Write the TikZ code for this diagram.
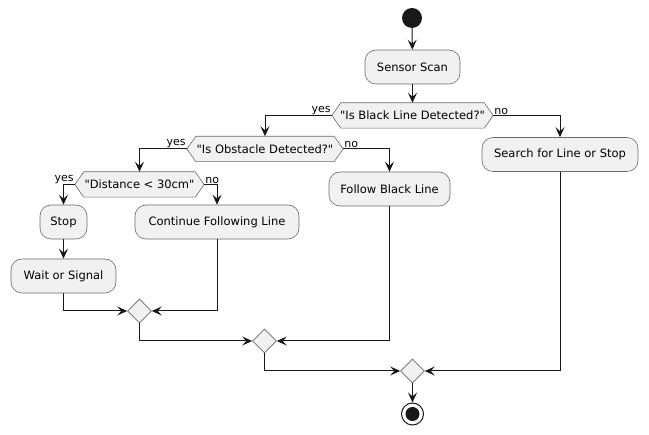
\documentclass[tikz,border=0pt]{standalone}
\usepackage{fontspec}
\setmainfont{DejaVu Sans}[Ligatures=TeXOff]
\usetikzlibrary{arrows.meta,backgrounds,calc,shapes.geometric}
\definecolor{boxfill}{HTML}{F1F1F1}
\definecolor{boxline}{HTML}{6A6A6A}
\definecolor{ink}{HTML}{181818}
\tikzset{
  x=1pt,y=-1pt,
  act/.style={draw=boxline,fill=boxfill,rounded corners=11pt,line width=0.6pt,
    minimum height=34pt,inner sep=0pt,font=\fontsize{11.5}{13}\selectfont},
  hexbox/.style={inner sep=0pt,minimum height=25pt,font=\fontsize{11.5}{13}\selectfont},
  hexline/.style={draw=boxline,fill=boxfill,line width=0.6pt},
  merge/.style={draw=boxline,fill=boxfill,line width=0.6pt,shape=diamond,
    minimum width=24pt,minimum height=24pt,inner sep=0pt},
  flow/.style={draw=ink,line width=1pt,-{Stealth[length=10pt,width=9pt,inset=4pt]}},
  lbl/.style={font=\fontsize{11}{12}\selectfont,inner sep=1pt},
}
\newcommand{\hexshape}[1]{%
  \begin{scope}[on background layer]
  \path[hexline] (#1.west) -- ([xshift=9pt]#1.north west) -- ([xshift=-9pt]#1.north east)
    -- (#1.east) -- ([xshift=-9pt]#1.south east) -- ([xshift=9pt]#1.south west) -- cycle;
  \end{scope}}
\begin{document}
\begin{tikzpicture}
\useasboundingbox (0,0) rectangle (649,435);
% start
\node[circle,fill=ink,minimum size=20pt,inner sep=0pt] (start) at (412,18) {};
\node[act,minimum width=95pt] (scan) at (412.5,67) {Sensor Scan};
\node[hexbox,minimum width=161pt] (d1) at (412.5,115.5) {"Is Black Line Detected?"};
\hexshape{d1}
\node[act,minimum width=156pt] (search) at (560,154.5) {Search for Line or Stop};
\node[hexbox,minimum width=156pt] (d2) at (265,149) {"Is Obstacle Detected?"};
\hexshape{d2}
\node[act,minimum width=121pt] (follow) at (389.5,189) {Follow Black Line};
\node[hexbox,minimum width=129pt] (d3) at (139.5,184.5) {"Distance < 30cm"};
\hexshape{d3}
\node[act,minimum width=47pt] (stop) at (63.5,222) {Stop};
\node[act,minimum width=164pt] (cont) at (217,222) {Continue Following Line};
\node[act,minimum width=105pt] (wait) at (63.5,276) {Wait or Signal};
\node[merge] (m1) at (139.5,311) {};
\node[merge] (m2) at (264.5,341) {};
\node[merge] (m3) at (412.5,371) {};
% end
\node[circle,draw=ink,line width=1pt,fill=white,minimum size=22pt,inner sep=0pt] (end) at (412.5,414) {};
\node[circle,fill=ink,minimum size=14pt,inner sep=0pt] (endcore) at (end) {};
% connectors
\draw[flow] (start) -- (scan);
\draw[flow] (scan) -- (d1);
\draw[flow] (d1.west) -| (d2.north);
\draw[flow] (d1.east) -| (search.north);
\node[lbl,anchor=south east] (y1) at (d1.west) {yes};
\node[lbl,anchor=south west] (n1) at (d1.east) {no};
\draw[flow] (d2.west) -| (d3.north);
\draw[flow] (d2.east) -| (follow.north);
\node[lbl,anchor=south east] (y2) at (d2.west) {yes};
\node[lbl,anchor=south west] (n2) at (d2.east) {no};
\draw[flow] (d3.west) -| (stop.north);
\draw[flow] (d3.east) -| (cont.north);
\node[lbl,anchor=south east] (y3) at (d3.west) {yes};
\node[lbl,anchor=south west] (n3) at (d3.east) {no};
\draw[flow] (stop) -- (wait);
\draw[flow] (wait.south) |- (m1.west);
\draw[flow] (cont.south) |- (m1.east);
\draw[flow] (m1.south) |- (m2.west);
\draw[flow] (follow.south) |- (m2.east);
\draw[flow] (m2.south) |- (m3.west);
\draw[flow] (search.south) |- (m3.east);
\draw[flow] (m3) -- (end);
\end{tikzpicture}
\end{document}
